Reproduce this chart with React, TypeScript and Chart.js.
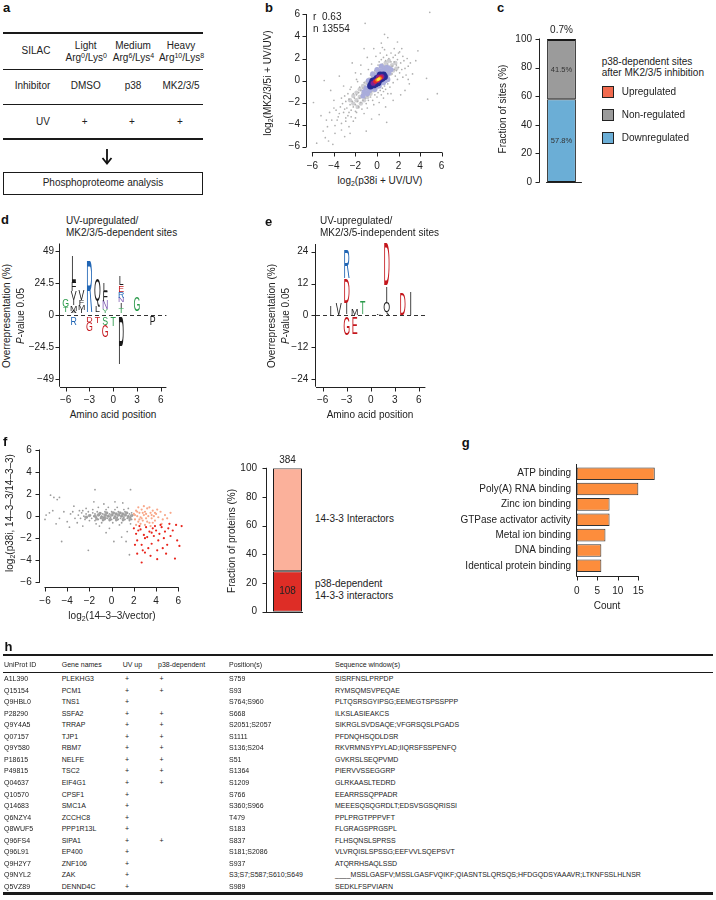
import React, { useEffect, useRef } from 'react';
import { Chart, registerables } from 'chart.js';

Chart.register(...registerables);

const FONT = '"Liberation Sans", Arial, Helvetica, sans-serif';
Chart.defaults.font.family = FONT;
Chart.defaults.font.size = 10;
Chart.defaults.color = '#222';

// ---------------- DATA ----------------
// panel a
const silacNames = ['Light', 'Medium', 'Heavy'];
const silacArg = ['0', '6', '10'];
const silacLys = ['0', '4', '8'];
const inhibitors = ['DMSO', 'p38', 'MK2/3/5'];
const uvFlags = ['+', '+', '+'];

// panel b
const bTicks = [-6, -4, -2, 0, 2, 4, 6];
const bStats = { r: '0.63', n: '13554' };
const bFill: [number, number][] = [
  [-2.2, -2.1], [-1.9, -1.8], [-1.6, -1.5], [-1.3, -1.2], [-1.0, -0.9], [-0.7, -0.6], [-0.4, -0.3], [-0.1, 0.0], [0.2, 0.3], [0.5, 0.6], [0.8, 0.9], [1.1, 1.2], [1.4, 1.4], [1.7, 1.6],
  [-2.5, -1.8], [-2.2, -1.4], [-1.9, -1.1], [-1.6, -0.8], [-1.3, -0.5], [-1.0, -0.2], [-0.7, 0.1], [-0.4, 0.4], [-0.1, 0.7], [0.2, 1.0], [0.5, 1.3], [0.8, 1.6], [1.1, 1.8],
  [-1.8, -2.4], [-1.5, -2.1], [-1.2, -1.8], [-0.9, -1.5], [-0.6, -1.2], [-0.3, -0.9], [0.0, -0.6], [0.3, -0.3], [0.6, 0.0], [0.9, 0.3], [1.2, 0.6], [1.5, 0.9], [1.8, 1.1],
];
const bDots: [number, number][] = [
  [-5.6, -5.7], [-4.1, -5.8], [-5.0, -4.6], [-4.6, -4.2], [-4.2, -3.6], [-3.9, -4.1], [-3.6, -3.3], [-3.8, -2.7], [-3.3, -3.9], [-3.1, -2.9], [-2.9, -3.4], [-3.4, -2.4], [-4.9, 0.0], [-3.1, -0.5], [-4.0, -1.8], [-4.4, -2.9], [-2.6, -4.2], [-2.2, -3.7], [-5.2, -3.2], [-3.0, -1.4], [-2.5, -0.8], [-1.8, -0.1], [-1.1, 5.2], [4.9, 6.2], [4.7, -1.7], [2.6, -0.9], [4.6, 0.2], [0.7, 4.2], [1.0, 3.9], [0.4, 3.4], [1.6, 2.9], [2.1, 2.6], [2.4, 2.2], [2.9, 1.3], [3.3, 0.6], [3.0, -0.3], [2.2, -1.3], [1.5, -1.8], [0.8, -2.4], [0.2, -3.1], [-0.5, -3.5], [-0.9, 2.1], [-1.5, 1.4], [-2.0, 0.7], [-1.2, 2.9], [-0.3, 2.9], [5.6, -1.2], [-5.9, -2.0], [3.8, 2.7], [-2.3, 1.6], [0.9, -3.8], [-1.0, -4.6], [1.9, 3.5], [3.6, 1.8], [-4.3, -0.9], [-3.5, 0.4],
  [-2.8, -2.5], [-2.6, -2.9], [-2.5, -2.2], [-2.4, -2.7], [-2.3, -1.9], [-2.2, -2.4], [-2.1, -1.6], [-2.0, -2.2], [-2.0, -2.8], [-1.9, -1.3], [-1.8, -1.9], [-1.7, -2.4], [-1.7, -1.1], [-1.6, -1.6], [-1.5, -2.0], [-1.5, -0.9], [-1.4, -1.4], [-1.3, -1.8], [-1.3, -0.7], [-1.2, -1.2], [-1.1, -1.6], [-1.1, -0.5], [-1.0, -1.0], [-1.0, -2.1], [-0.9, -1.4], [-0.9, -0.3], [-0.8, -0.8], [-0.8, -1.8], [-0.7, -1.2], [-0.7, 0.1], [-0.6, -0.5], [-0.6, -1.5], [-0.5, 0.3], [-0.5, -1.0], [-0.4, -0.2], [-0.4, -1.8], [-0.3, 0.6], [-0.3, -0.7], [-0.2, -1.3], [-0.2, 0.9], [-0.1, -0.9], [0.0, 1.1], [0.0, -1.5], [0.1, 1.4], [0.1, -1.1], [0.2, 1.7], [0.3, -0.9], [0.3, 1.2], [0.4, -1.3], [0.4, 1.9], [0.5, -0.7], [0.5, 1.5], [0.6, -1.0], [0.6, 2.1], [0.7, -0.5], [0.7, 1.3], [0.8, 1.8], [0.8, -0.8], [0.9, 0.9], [0.9, 2.3], [1.0, -0.3], [1.0, 1.5], [1.1, 2.0], [1.1, 0.3], [1.2, 1.1], [1.2, -0.6], [1.3, 1.7], [1.3, 2.5], [1.4, 0.6], [1.4, 1.3], [1.5, 2.1], [1.5, -0.2], [1.6, 1.0], [1.6, 1.7], [1.7, 0.4], [1.7, 2.3], [1.8, 1.4], [1.8, 0.9], [1.9, 1.9], [1.9, 0.1], [2.0, 1.2], [2.0, 2.5], [2.1, 0.7], [2.2, 1.6], [2.3, 1.0], [2.4, 0.3], [2.5, 1.8], [2.6, 1.1], [2.7, 0.5], [2.8, 2.0],
  [-3.2, -2.1], [-3.0, -2.6], [-2.9, -1.9], [-2.7, -3.2], [-2.6, -1.7], [-2.4, -3.3], [-2.2, -1.2], [-1.9, -2.9], [-1.6, -0.6], [-1.4, -2.6], [-1.2, -0.2], [-0.9, -2.5], [-0.6, 0.5], [-0.3, -2.2], [0.2, -2.0], [0.6, -1.6], [1.0, -1.2], [-0.8, 1.0], [-0.5, 1.5], [-0.1, 2.2], [0.3, 2.5], [0.7, 2.8], [-1.9, 0.1], [-2.4, -0.6], [-3.5, -3.0], [-3.3, -1.6], [-2.9, -3.7], [-1.2, -3.0], [0.5, 3.0], [2.3, 2.9], [3.1, 1.6], [2.9, 0.1], [1.3, -1.2], [-1.5, 0.6], [-2.7, -1.2], [-2.0, -3.4], [-3.7, -3.6], [-4.0, -2.5], [-3.3, -4.5], [-4.7, -3.6], [-4.8, -5.2], [-3.9, -4.8], [-4.5, -5.5], [-2.5, -4.8], [-3.0, -5.1],
];
const bHalo: [number, number][] = [
  [-1.2, -1.0], [-1.0, -0.7], [-0.9, -1.2], [-0.7, -0.4], [-0.7, -0.9], [-0.5, -0.1], [-0.5, -0.7], [-0.3, 0.2], [-0.3, -0.5], [-0.1, 0.4], [-0.1, -0.3], [0.1, 0.6], [0.1, -0.2], [0.3, 0.8], [0.3, 0.0], [0.5, 0.9], [0.5, 0.2], [0.7, 1.0], [0.7, 0.4], [0.9, 1.2], [0.9, 0.5], [1.1, 1.1], [1.1, 0.7], [1.3, 1.0], [-1.3, -1.4], [-0.2, -0.8], [0.2, -0.5], [0.6, -0.2], [-0.4, 0.6], [0.0, 1.0], [0.8, 0.0], [-0.8, 0.0], [0.4, 1.3], [1.0, 0.1],
];
const bNavy: [number, number][] = [
  [-0.6, -0.5], [-0.5, -0.3], [-0.4, -0.05], [-0.3, -0.4], [-0.2, 0.0], [-0.1, -0.3], [0.0, -0.1], [0.0, 0.2], [0.1, -0.2], [0.2, 0.3], [0.3, 0.1], [0.4, 0.4], [0.5, 0.2], [0.6, 0.5], [0.7, 0.35], [0.3, 0.5],
];
const bPurple: [number, number][] = [[-0.35, -0.25], [-0.15, -0.05], [0.05, 0.0], [0.25, 0.25], [0.45, 0.35], [0.15, 0.3]];
const bRed: [number, number][] = [[-0.15, -0.1], [0.05, 0.05], [0.2, 0.15], [0.35, 0.28]];
const bOrange: [number, number][] = [[0.0, 0.05], [0.15, 0.12], [0.27, 0.2]];
const bYellow: [number, number][] = [[0.1, 0.08], [0.2, 0.16]];

// panel c
const cTicks = [0, 20, 40, 60, 80, 100];
const cCategories = ['Upregulated', 'Non-regulated', 'Downregulated'];
const cValues = [0.7, 41.5, 57.8];
const cColors = ['#f26b4f', '#9b9b9b', '#6baed6'];

// panels d, e (sequence logos): [position, letter, bottom %, top %, colour key]
const logoColors: Record<string, string> = { k: '#1a1a1a', b: '#2166b5', r: '#c4161c', g: '#2a9a4a', p: '#7b55b0' };
const dTicksX = [-6, -3, 0, 3, 6];
const dTicksY = [-49, -24.5, 0, 24.5, 49];
const logoD: [number, string, number, number, string][] = [
  [-6, 'T', 2.0, 6.1, 'g'], [-6, 'G', 6.1, 12.2, 'g'],
  [-5, 'A', 1.3, 3.5, 'k'], [-5, 'M', 3.5, 7.7, 'k'], [-5, 'I', 7.7, 11.5, 'k'], [-5, 'V', 11.5, 18.4, 'k'], [-5, 'F', 18.4, 25.5, 'k'], [-5, 'L', 25.5, 45.2, 'k'], [-5, 'R', -7.4, -1.3, 'b'],
  [-4, 'I', 1.3, 3.8, 'k'], [-4, 'M', 3.8, 7.7, 'k'], [-4, 'F', 7.7, 11.5, 'k'], [-4, 'V', 11.5, 19.1, 'k'],
  [-3, 'R', 2.0, 41.3, 'b'], [-3, 'D', -5.1, -1.3, 'r'], [-3, 'G', -12.2, -5.1, 'r'],
  [-2, 'L', 2.0, 6.4, 'k'], [-2, 'Q', 6.4, 28.1, 'k'], [-2, 'T', -6.4, -1.3, 'r'],
  [-1, 'Y', 1.3, 4.3, 'g'], [-1, 'N', 4.3, 10.7, 'p'], [-1, 'F', 10.7, 18.4, 'k'], [-1, 'L', 18.4, 24.2, 'k'], [-1, 'S', -7.7, -1.3, 'g'], [-1, 'G', -17.1, -7.7, 'r'],
  [0, 'T', -8.2, -1.3, 'g'],
  [1, 'T', 1.3, 5.5, 'g'], [1, 'I', 5.5, 9.7, 'k'], [1, 'N', 9.7, 13.3, 'p'], [1, 'R', 13.3, 17.9, 'b'], [1, 'E', 17.9, 23.0, 'r'], [1, 'L', 23.0, 29.3, 'k'], [1, 'P', -37.0, -1.3, 'k'],
  [3, 'G', 3.1, 14.0, 'g'],
  [5, 'P', -7.7, -1.3, 'k'],
];
const eTicksY = [-24, -12, 0, 12, 24];
const logoE: [number, string, number, number, string][] = [
  [-5, 'I', 0.3, 3.8, 'k'], [-4, 'V', 0.3, 4.8, 'k'],
  [-3, 'I', 0.6, 4.8, 'k'], [-3, 'D', 4.8, 14.1, 'r'], [-3, 'R', 14.1, 25.0, 'b'], [-3, 'G', -7.3, -0.6, 'r'],
  [-2, 'M', 0.3, 2.5, 'k'], [-2, 'E', -6.9, -0.6, 'r'],
  [-1, 'T', 0.3, 5.3, 'g'], [1, 'L', 0.3, 0.9, 'k'],
  [2, 'Q', 0.3, 5.1, 'k'], [2, 'I', 5.1, 10.7, 'k'], [2, 'D', 11.4, 27.1, 'r'],
  [4, 'D', 0.3, 8.2, 'r'], [5, 'I', 0.3, 8.8, 'k'],
];

// panel f
const fTicks = [-6, -4, -2, 0, 2, 4, 6];
const fFill: [number, number][] = [
  [-1.5, 0.0], [-1.2, 0.1], [-0.9, -0.1], [-0.6, 0.1], [-0.3, 0.0], [0.0, 0.1], [0.3, -0.1], [0.6, 0.1], [0.9, 0.0], [1.2, 0.1], [1.5, -0.05], [1.8, 0.05], [-1.35, -0.25], [-1.05, 0.25], [-0.75, -0.3], [-0.45, 0.3], [-0.15, -0.3], [0.15, 0.3], [0.45, -0.3], [0.75, 0.3], [1.05, -0.3], [1.35, 0.3], [1.65, -0.25], [-0.6, -0.15], [0.4, 0.2], [1.0, 0.2], [-2.0, 0.05], [-2.3, -0.1],
];
const fGray: [number, number][] = [
  [-5.5, 1.9], [-5.2, 1.7], [-4.7, 1.7], [-4.9, 1.5], [-5.9, 0.1], [-5.6, 0.3], [-5.3, 0.5], [-6.0, -0.3], [-4.5, -2.3], [-4.7, -0.2], [-4.3, 0.4], [-4.0, -0.5], [-3.7, 0.2], [-3.4, 0.9], [-3.1, -0.6], [-2.9, 0.5], [-2.1, -3.1], [-1.5, 2.4], [1.7, 2.4], [-0.5, -1.5], [0.2, -2.3], [1.3, -2.3], [1.4, -1.4], [0.9, -1.9], [-1.1, -0.9], [-2.6, -0.9], [-2.3, 0.7], [-1.6, 1.3], [-0.7, 1.1], [0.3, 1.3], [1.0, 1.2], [-0.2, -1.1], [1.6, -3.5], [-1.2, 0.8], [-3.8, -1.0], [-5.0, -0.7],
  [-3.0, 0.1], [-2.8, -0.2], [-2.7, 0.3], [-2.5, 0.0], [-2.4, -0.3], [-2.3, 0.2], [-2.2, -0.1], [-2.1, 0.4], [-2.0, -0.4], [-1.9, 0.1], [-1.8, -0.2], [-1.7, 0.3], [-1.6, 0.0], [-1.5, -0.4], [-1.5, 0.2], [-1.4, -0.1], [-1.3, 0.4], [-1.2, -0.3], [-1.1, 0.1], [-1.0, -0.2], [-1.0, 0.3], [-0.9, 0.0], [-0.8, -0.4], [-0.8, 0.2], [-0.7, -0.1], [-0.6, 0.4], [-0.6, -0.3], [-0.5, 0.1], [-0.4, -0.2], [-0.4, 0.3], [-0.3, 0.0], [-0.2, -0.4], [-0.2, 0.2], [-0.1, -0.1], [0.0, 0.4], [0.0, -0.3], [0.1, 0.1], [0.2, -0.2], [0.2, 0.3], [0.3, 0.0], [0.4, -0.4], [0.4, 0.2], [0.5, -0.1], [0.6, 0.4], [0.6, -0.3], [0.7, 0.1], [0.8, -0.2], [0.8, 0.3], [0.9, 0.0], [1.0, -0.4], [1.0, 0.2], [1.1, -0.1], [1.2, 0.4], [1.2, -0.3], [1.3, 0.1], [1.4, -0.2], [1.4, 0.3], [1.5, 0.0], [1.6, -0.4], [1.6, 0.2], [1.7, -0.1], [1.8, 0.3], [1.8, -0.3], [1.9, 0.1], [-0.5, 0.6], [0.3, 0.6], [1.1, 0.6], [-0.9, -0.6], [0.1, -0.6], [0.9, -0.6], [-1.7, 0.6], [1.5, 0.7], [-2.6, 0.5], [-3.3, -0.2], [-3.5, 0.4], [0.5, 0.8], [-0.3, 0.8], [1.7, -0.7], [-1.4, -0.7], [0.7, -0.8],
];
const fSalmon: [number, number][] = [
  [2.0, 0.2], [2.1, -0.3], [2.2, 0.5], [2.3, 0.0], [2.4, -0.5], [2.5, 0.3], [2.6, -0.1], [2.7, 0.6], [2.8, -0.4], [2.9, 0.1], [3.0, 0.4], [3.1, -0.2], [3.2, 0.7], [3.3, 0.0], [3.4, -0.6], [3.5, 0.3], [3.6, -0.2], [3.7, 0.5], [3.8, 0.0], [3.9, -0.4], [4.0, 0.2], [4.2, -0.1], [4.4, 0.4], [4.6, -0.3], [4.8, 0.1], [5.0, -0.2], [2.2, -0.8], [2.6, -0.7], [3.0, -0.8], [3.5, -0.9], [2.4, 0.8], [2.9, 0.9], [3.4, 0.8], [2.1, 0.1], [2.5, -0.3], [2.8, 0.3], [3.2, -0.5], [3.7, -0.6], [4.1, 0.6], [4.5, -0.7], [5.3, 0.3], [2.3, 0.4], [2.7, -0.2], [3.1, 0.2], [3.6, 0.1], [3.9, 0.3],
];
const fRed: [number, number][] = [
  [2.0, -1.1], [2.2, -1.6], [2.3, -2.2], [2.4, -1.3], [2.6, -1.2], [2.7, -2.6], [2.7, -4.2], [2.9, -1.7], [3.0, -2.0], [3.1, -1.0], [3.2, -1.9], [3.3, -2.9], [3.4, -1.4], [3.5, -3.6], [3.6, -2.5], [3.7, -1.1], [3.8, -1.8], [4.0, -1.3], [4.1, -3.1], [4.1, -3.9], [4.2, -2.2], [4.3, -1.6], [4.5, -1.0], [4.6, -2.9], [4.7, -2.0], [4.8, -1.4], [5.0, -2.6], [5.1, -1.1], [5.3, -1.8], [5.5, -1.3], [5.7, -3.85], [5.9, -2.2], [6.1, -2.7], [6.3, -0.9], [5.8, -0.8], [5.2, -0.7], [4.4, -0.8], [3.9, -0.9], [2.5, -0.9], [2.8, -3.1], [3.0, -3.3], [2.1, -2.6], [2.3, -3.4], [4.9, -3.4], [3.6, -1.5],
];
const fBarTicks = [0, 20, 40, 60, 80, 100];
const fTotal = 384;
const fDependent = 108;

// panel g
const gTerms = ['ATP binding', 'Poly(A) RNA binding', 'Zinc ion binding', 'GTPase activator activity', 'Metal ion binding', 'DNA binding', 'Identical protein binding'];
const gCounts = [19, 15, 8, 8, 7, 6, 6];
const gTicks = [0, 5, 10, 15];

// panel h
const hHeaders = ['UniProt ID', 'Gene names', 'UV up', 'p38-dependent', 'Position(s)', 'Sequence window(s)'];
const hIds = ['A1L390', 'Q15154', 'Q9HBL0', 'P28290', 'Q9Y4A5', 'Q07157', 'Q9Y580', 'P18615', 'P49815', 'Q04637', 'Q10570', 'Q14683', 'Q6NZY4', 'Q8WUF5', 'Q96FS4', 'Q96L91', 'Q9H2Y7', 'Q9NYL2', 'Q5VZ89'];
const hGenes = ['PLEKHG3', 'PCM1', 'TNS1', 'SSFA2', 'TRRAP', 'TJP1', 'RBM7', 'NELFE', 'TSC2', 'EIF4G1', 'CPSF1', 'SMC1A', 'ZCCHC8', 'PPP1R13L', 'SIPA1', 'EP400', 'ZNF106', 'ZAK', 'DENND4C'];
const hUv = ['+', '+', '+', '+', '+', '+', '+', '+', '+', '+', '+', '+', '+', '+', '+', '+', '+', '+', '+'];
const hP38 = ['+', '+', '', '+', '+', '+', '+', '+', '+', '+', '', '', '', '', '+', '', '', '', ''];
const hPositions = ['S759', 'S93', 'S764;S960', 'S668', 'S2051;S2057', 'S1111', 'S136;S204', 'S51', 'S1364', 'S1209', 'S766', 'S360;S966', 'T479', 'S183', 'S837', 'S181;S2086', 'S937', 'S3;S7;S587;S610;S649', 'S989'];
const hSeqs = ['SISRFNSLPRPDP', 'RYMSQMSVPEQAE', 'PLTQSRSGYIPSG;EEMEGTSPSSPPP', 'ILKSLASIEAKCS', 'SIKRGLSVDSAQE;VFGRSQSLPGADS', 'PFDNQHSQDLDSR', 'RKVRMNSYPYLAD;IIQRSFSSPENFQ', 'GVKRSLSEQPVMD', 'PIERVVSSEGGRP', 'GLRKAASLTEDRD', 'EEARRSSQPPADR', 'MEEESQSQGRDLT;EDSVSGSQRISSI', 'PPLPRGTPPPVFT', 'FLGRAGSPRGSPL', 'FLHSQNSLSPRSS', 'VLVRQISLSPSSG;EEFVVLSQEPSVT', 'ATQRRHSAQLSSD', '____MSSLGASFV;MSSLGASFVQIKF;QIASNTSLQRSQS;HFDGQDSYAAAVR;LTKNFSSLHLNSR', 'SEDKLFSPVIARN'];

// ---------------- HELPERS ----------------
const toXY = (a: [number, number][]) => a.map(([x, y]) => ({ x, y }));
const fmtTick = (v: number) => (v < 0 ? '\u2212' + Math.abs(v) : String(v));

const common = {
  responsive: false,
  animation: false,
  devicePixelRatio: 1,
  events: [],
  plugins: { legend: { display: false }, tooltip: { enabled: false } },
};

function zeroPad(s: any) {
  s.paddingLeft = 0; s.paddingRight = 0; s.paddingTop = 0; s.paddingBottom = 0;
}

function lin(o: { min: number; max: number; ticks: number[]; pad: number; fit: number; axis: 'x' | 'y' }) {
  return {
    type: 'linear',
    min: o.min,
    max: o.max,
    afterBuildTicks: (s: any) => { s.ticks = o.ticks.map((v) => ({ value: v })); },
    grid: { display: false, drawTicks: false },
    border: { display: false },
    ticks: { padding: o.pad, font: { size: 10, family: FONT }, color: '#222', autoSkip: false, maxRotation: 0, callback: (v: any) => fmtTick(Number(v)) },
    afterFit: (s: any) => { if (o.axis === 'x') s.height = o.fit; else s.width = o.fit; zeroPad(s); },
  };
}

type AxSpec = { from?: number; to?: number; ext?: [number, number]; off?: number; ticks?: boolean };
function axesPlugin(spec: { x?: AxSpec; y?: AxSpec }) {
  return {
    id: 'raxes',
    afterDraw(chart: any) {
      const { ctx, chartArea: ca, scales } = chart;
      const r = (v: number) => Math.round(v) + 0.5;
      ctx.save();
      ctx.strokeStyle = '#222';
      ctx.lineWidth = 1;
      ctx.beginPath();
      if (spec.x) {
        const s = scales.x, a = spec.x;
        const yy = r(ca.bottom + (a.off || 0));
        const x0 = a.from !== undefined ? s.getPixelForValue(a.from) - 0.5 : ca.left - (a.ext ? a.ext[0] : 0);
        const x1 = a.to !== undefined ? s.getPixelForValue(a.to) + 0.5 : ca.right + (a.ext ? a.ext[1] : 0);
        ctx.moveTo(x0, yy); ctx.lineTo(x1, yy);
        if (a.ticks !== false) s.ticks.forEach((t: any) => { const p = r(s.getPixelForValue(t.value)); ctx.moveTo(p, yy); ctx.lineTo(p, yy + 4); });
      }
      if (spec.y) {
        const s = scales.y, a = spec.y;
        const xx = r(ca.left - (a.off || 0)) - 1;
        const y0 = a.from !== undefined ? s.getPixelForValue(a.from) + 0.5 : ca.bottom + (a.ext ? a.ext[1] : 0);
        const y1 = a.to !== undefined ? s.getPixelForValue(a.to) - 0.5 : ca.top - (a.ext ? a.ext[0] : 0);
        ctx.moveTo(xx, y0); ctx.lineTo(xx, y1);
        if (a.ticks !== false) s.ticks.forEach((t: any) => { const p = r(s.getPixelForValue(t.value)); ctx.moveTo(xx, p); ctx.lineTo(xx - 4, p); });
      }
      ctx.stroke();
      ctx.restore();
    },
  };
}

function barBasePlugin(fromAxis: boolean, leftExt: number, rightExt: number) {
  return {
    id: 'barbase',
    afterDraw(chart: any) {
      const el = chart.getDatasetMeta(0).data[0];
      const ca = chart.chartArea;
      const ctx = chart.ctx;
      const l = fromAxis ? ca.left - 1 : el.x - el.width / 2 - leftExt;
      const rr = el.x + el.width / 2 + rightExt;
      const yy = Math.round(ca.bottom) + 0.5;
      ctx.save();
      ctx.strokeStyle = '#222';
      ctx.lineWidth = 1;
      ctx.beginPath(); ctx.moveTo(l, yy); ctx.lineTo(rr, yy); ctx.stroke();
      ctx.restore();
    },
  };
}

function barLabelPlugin(items: { ds: number; text: string; where: 'mid' | 'top'; size: number; dy?: number; color?: string }[]) {
  return {
    id: 'barlabels',
    afterDraw(chart: any) {
      const ctx = chart.ctx;
      ctx.save();
      ctx.textAlign = 'center';
      ctx.textBaseline = 'middle';
      items.forEach((it) => {
        const el = chart.getDatasetMeta(it.ds).data[0];
        ctx.font = `${it.size}px ${FONT}`;
        ctx.fillStyle = it.color || '#222';
        const y = it.where === 'mid' ? (el.y + el.base) / 2 : el.y - (it.dy || 8);
        ctx.fillText(it.text, el.x, y);
      });
      ctx.restore();
    },
  };
}

function logoPlugin(letters: [number, string, number, number, string][]) {
  return {
    id: 'logo',
    beforeDatasetsDraw(chart: any) {
      const { ctx, chartArea: ca, scales } = chart;
      const y0 = Math.round(scales.y.getPixelForValue(0)) + 0.5;
      ctx.save();
      ctx.strokeStyle = '#333';
      ctx.lineWidth = 1;
      ctx.setLineDash([4, 3]);
      ctx.beginPath(); ctx.moveTo(ca.left, y0); ctx.lineTo(ca.right, y0); ctx.stroke();
      ctx.restore();
    },
    afterDatasetsDraw(chart: any) {
      const { ctx, scales } = chart;
      const x = scales.x, y = scales.y;
      ctx.save();
      ctx.font = `100px ${FONT}`;
      ctx.textAlign = 'center';
      ctx.textBaseline = 'alphabetic';
      const refW = ctx.measureText('D').width;
      const unit = Math.abs(x.getPixelForValue(1) - x.getPixelForValue(0));
      letters.forEach(([pos, ch, lo, hi, col]) => {
        const m = ctx.measureText(ch);
        const asc = m.actualBoundingBoxAscent, desc = m.actualBoundingBoxDescent;
        const yTop = y.getPixelForValue(hi), yBot = y.getPixelForValue(lo);
        const h = yBot - yTop;
        const sx = (unit * 0.8) / refW, sy = h / (asc + desc);
        ctx.save();
        ctx.translate(x.getPixelForValue(pos), yBot);
        ctx.scale(sx, sy);
        ctx.fillStyle = logoColors[col];
        ctx.fillText(ch, 0, -desc);
        ctx.restore();
      });
      ctx.restore();
    },
  };
}

// order: lower number is drawn on top in Chart.js
const pts = (a: [number, number][], color: string, r: number, layer: number) => ({
  data: toXY(a), pointRadius: r, pointBackgroundColor: color, backgroundColor: color, pointBorderWidth: 0, borderWidth: 0, order: layer,
});

// ---------------- CHART CONFIGS ----------------
const buildB = () => ({
  type: 'scatter',
  data: {
    datasets: [
      pts(bFill, '#cfcfd2', 2.2, 8), pts(bDots, '#b0b0b0', 0.85, 7), pts(bHalo, '#a9acdb', 2.6, 6), pts(bNavy, '#262a93', 3.4, 5),
      pts(bPurple, '#86208f', 2.6, 4), pts(bRed, '#e3262b', 2.2, 3), pts(bOrange, '#f5901f', 1.8, 2), pts(bYellow, '#ffe83d', 1.3, 1),
    ],
  },
  options: {
    ...common,
    layout: { padding: { top: 3.8, right: 1.5, left: 0, bottom: 0 } },
    scales: {
      x: lin({ min: -6.5, max: 6.5, ticks: bTicks, pad: 8.1, fit: 20, axis: 'x' }),
      y: lin({ min: -6.5, max: 6.5, ticks: bTicks, pad: 7, fit: 52, axis: 'y' }),
    },
  },
  plugins: [axesPlugin({ x: { from: -6, to: 6 }, y: { from: -6, to: 6 } })],
});

const buildC = () => {
  const order = [2, 1, 0];
  return {
    type: 'bar',
    data: {
      labels: [''],
      datasets: order.map((i) => ({
        label: cCategories[i], data: [cValues[i]], backgroundColor: cColors[i], borderColor: '#1a1a1a', borderWidth: 1, borderSkipped: false, barPercentage: 0.67, categoryPercentage: 1,
      })),
    },
    options: {
      ...common,
      layout: { padding: { top: 19, right: 12, left: 0, bottom: 0 } },
      scales: {
        x: { stacked: true, grid: { display: false, drawTicks: false }, border: { display: false }, ticks: { display: false }, afterFit: (s: any) => { s.height = 13; zeroPad(s); } },
        y: { ...lin({ min: 0, max: 100, ticks: cTicks, pad: 8, fit: 50, axis: 'y' }), stacked: true },
      },
    },
    plugins: [
      axesPlugin({ y: { from: 0, to: 100 } }),
      barBasePlugin(false, 1, 6),
      barLabelPlugin([
        { ds: 0, text: `${cValues[2]}%`, where: 'mid', size: 7.5, color: '#333' },
        { ds: 1, text: `${cValues[1]}%`, where: 'mid', size: 7.5, color: '#333' },
        { ds: 2, text: `${cValues[0]}%`, where: 'top', size: 10, dy: 9 },
      ]),
    ],
  };
};

const buildLogo = (letters: any, xmin: number, xmax: number, ymin: number, ymax: number, yTicks: number[], yFit: number, padTop: number, padRight: number, yPad: number) => ({
  type: 'scatter',
  data: { datasets: [{ data: [] }] },
  options: {
    ...common,
    layout: { padding: { top: padTop, right: padRight, left: 0, bottom: 0 } },
    scales: {
      x: lin({ min: xmin, max: xmax, ticks: dTicksX, pad: 8, fit: 19.3, axis: 'x' }),
      y: lin({ min: ymin, max: ymax, ticks: yTicks, pad: yPad, fit: yFit, axis: 'y' }),
    },
  },
  plugins: [axesPlugin({ x: {}, y: {} }), logoPlugin(letters)],
});

const buildFScatter = () => ({
  type: 'scatter',
  data: {
    datasets: [pts(fFill, '#a6a6a6', 1.7, 4), pts(fGray, '#9c9c9c', 0.9, 3), pts(fSalmon, '#f8a88a', 1.1, 2), pts(fRed, '#e8251c', 1.1, 1)],
  },
  options: {
    ...common,
    layout: { padding: { top: 5, right: 6.7, left: 0, bottom: 0 } },
    scales: {
      x: lin({ min: -6.45, max: 6.45, ticks: fTicks, pad: 8.1, fit: 22.7, axis: 'x' }),
      y: lin({ min: -6.45, max: 6.45, ticks: fTicks, pad: 8.3, fit: 40, axis: 'y' }),
    },
  },
  plugins: [axesPlugin({ x: { from: -6, to: 6 }, y: { from: -6, to: 6 } })],
});

const buildFBar = () => {
  const depPct = (fDependent / fTotal) * 100;
  const restPct = 100 - depPct;
  return {
    type: 'bar',
    data: {
      labels: [''],
      datasets: [
        { data: [depPct], backgroundColor: '#de2d26' },
        { data: [restPct], backgroundColor: '#fbb19b' },
      ].map((d) => ({ ...d, borderColor: '#1a1a1a', borderWidth: 1, borderSkipped: false, barPercentage: 0.707, categoryPercentage: 1 })),
    },
    options: {
      ...common,
      layout: { padding: { top: 18.3, right: 7, left: 0, bottom: 0 } },
      scales: {
        x: { stacked: true, grid: { display: false, drawTicks: false }, border: { display: false }, ticks: { display: false }, afterFit: (s: any) => { s.height = 10.3; zeroPad(s); } },
        y: { ...lin({ min: 0, max: 100, ticks: fBarTicks, pad: 10, fit: 47, axis: 'y' }), stacked: true },
      },
    },
    plugins: [
      axesPlugin({ y: { from: 0, to: 100 } }),
      barBasePlugin(true, 0, 1),
      barLabelPlugin([
        { ds: 0, text: String(fDependent), where: 'mid', size: 10 },
        { ds: 1, text: String(fTotal), where: 'top', size: 10, dy: 8.5 },
      ]),
    ],
  };
};

const buildG = () => ({
  type: 'bar',
  data: {
    labels: gTerms,
    datasets: [{ data: gCounts, backgroundColor: '#fd8d3c', borderColor: '#333', borderWidth: 1, borderSkipped: false, barPercentage: 0.82, categoryPercentage: 1 }],
  },
  options: {
    ...common,
    indexAxis: 'y',
    layout: { padding: { top: 11, right: 9, left: 0, bottom: 0 } },
    scales: {
      x: lin({ min: 0, max: 19.3, ticks: gTicks, pad: 11.5, fit: 41.5, axis: 'x' }),
      y: {
        type: 'category',
        grid: { display: false, drawTicks: false },
        border: { display: false },
        ticks: { padding: 5.7, font: { size: 10, family: FONT }, color: '#222', autoSkip: false },
        afterFit: (s: any) => { s.width = 136.7; zeroPad(s); },
      },
    },
  },
  plugins: [axesPlugin({ x: { from: 0, to: 15, off: 2.5 }, y: { ext: [2, 2.5], ticks: false } })],
});

// ---------------- COMPONENTS ----------------
function ChartBox({ left, top, width, height, build }: { left: number; top: number; width: number; height: number; build: () => any }) {
  const ref = useRef<HTMLCanvasElement>(null);
  useEffect(() => {
    const chart = new Chart(ref.current as HTMLCanvasElement, build());
    return () => chart.destroy();
  }, []);
  return <canvas ref={ref} width={width} height={height} style={{ position: 'absolute', left, top, width, height, display: 'block' }} />;
}

function Txt({ x, y, children, align = 'left', size = 10, rot = false, bold = false, italic = false, color = '#222' }: any) {
  const tx = align === 'left' ? '0' : align === 'center' ? '-50%' : '-100%';
  const transform = rot ? 'translate(-50%,-50%) rotate(-90deg)' : `translate(${tx},-50%)`;
  return (
    <div style={{ position: 'absolute', left: x, top: y, transform, fontSize: size, lineHeight: 1, whiteSpace: 'nowrap', fontFamily: FONT, fontWeight: bold ? 'bold' : 'normal', fontStyle: italic ? 'italic' : 'normal', color }}>
      {children}
    </div>
  );
}

function Letter({ x, base, ch }: { x: number; base: number; ch: string }) {
  return <div style={{ position: 'absolute', left: x, top: base - 10.8, fontSize: 13, lineHeight: '13px', fontWeight: 'bold', fontFamily: FONT, color: '#111' }}>{ch}</div>;
}

function HLine({ x1, x2, y, w }: { x1: number; x2: number; y: number; w: number }) {
  return <div style={{ position: 'absolute', left: x1, top: y - w / 2, width: x2 - x1, height: w, background: '#1a1a1a' }} />;
}

const Sub = ({ c }: { c: string }) => <span style={{ fontSize: '0.7em', position: 'relative', top: '0.32em' }}>{c}</span>;
const Sup = ({ c }: { c: string }) => <span style={{ fontSize: '0.7em', position: 'relative', top: '-0.45em' }}>{c}</span>;

function PanelA() {
  const colX = [85.7, 133, 181];
  return (
    <>
      <Letter x={3} base={12} ch="a" />
      <HLine x1={3} x2={203} y={33.3} w={2} />
      <Txt x={36} y={51} align="center">SILAC</Txt>
      {silacNames.map((n, i) => (
        <React.Fragment key={n}>
          <Txt x={colX[i]} y={46} align="center">{n}</Txt>
          <Txt x={colX[i] + 0.5} y={58.3} align="center">Arg<Sup c={silacArg[i]} />/Lys<Sup c={silacLys[i]} /></Txt>
        </React.Fragment>
      ))}
      <HLine x1={3} x2={203} y={69} w={1} />
      <Txt x={32.5} y={86} align="center">Inhibitor</Txt>
      {inhibitors.map((n, i) => <Txt key={n} x={colX[i]} y={86} align="center">{n}</Txt>)}
      <HLine x1={3} x2={203} y={104.3} w={1} />
      <Txt x={43} y={121.7} align="center">UV</Txt>
      {uvFlags.map((n, i) => <Txt key={i} x={colX[i] - 1} y={121.7} align="center">{n}</Txt>)}
      <HLine x1={3} x2={203} y={139.3} w={2} />
      <svg style={{ position: 'absolute', left: 101, top: 149 }} width={12} height={16}>
        <line x1={6} y1={0} x2={6} y2={14} stroke="#111" strokeWidth={1.8} />
        <polyline points="1.5,9 6,14.5 10.5,9" fill="none" stroke="#111" strokeWidth={1.8} />
      </svg>
      <div style={{ position: 'absolute', left: 3, top: 171.5, width: 200, height: 23, border: '1px solid #1a1a1a', boxSizing: 'border-box' }} />
      <Txt x={103} y={183} align="center">Phosphoproteome analysis</Txt>
    </>
  );
}

function PanelB() {
  return (
    <>
      <Letter x={265} base={11.7} ch="b" />
      <ChartBox left={255} top={5} width={196} height={167} build={buildB} />
      <Txt x={313} y={17}>r</Txt>
      <Txt x={322} y={17}>{bStats.r}</Txt>
      <Txt x={313} y={29}>n</Txt>
      <Txt x={322} y={29}>{bStats.n}</Txt>
      <Txt x={380} y={181} align="center">log<Sub c="2" />(p38i + UV/UV)</Txt>
      <Txt x={268} y={83} rot>log<Sub c="2" />(MK2/3/5i + UV/UV)</Txt>
    </>
  );
}

function PanelC() {
  const sqY = [92, 115, 138.3];
  return (
    <>
      <Letter x={497} base={11.7} ch="c" />
      <ChartBox left={490} top={20} width={105} height={175} build={buildC} />
      <Txt x={503} y={109} rot>Fraction of sites (%)</Txt>
      <Txt x={601.7} y={62}>p38-dependent sites</Txt>
      <Txt x={601.7} y={73}>after MK2/3/5 inhibition</Txt>
      {cCategories.map((c, i) => (
        <React.Fragment key={c}>
          <div style={{ position: 'absolute', left: 601.7, top: sqY[i] - 6, width: 12, height: 12, background: cColors[i], border: '1px solid #222', boxSizing: 'border-box' }} />
          <Txt x={621.7} y={sqY[i]}>{c}</Txt>
        </React.Fragment>
      ))}
    </>
  );
}

function LogoPanel({ letter, lx, lbase, tx, canvasLeft, build, yt1, yt2, xc }: any) {
  return (
    <>
      <Letter x={lx} base={lbase} ch={letter} />
      <Txt x={tx} y={221}>UV-upregulated/</Txt>
      <Txt x={tx} y={233}>{letter === 'd' ? 'MK2/3/5-dependent sites' : 'MK2/3/5-independent sites'}</Txt>
      <ChartBox left={canvasLeft} top={238} width={160} height={168} build={build} />
      <Txt x={yt1} y={316} rot>Overrepresentation (%)</Txt>
      <Txt x={yt2} y={316} rot><i>P</i>-value 0.05</Txt>
      <Txt x={xc} y={415} align="center">Amino acid position</Txt>
    </>
  );
}

function PanelF() {
  return (
    <>
      <Letter x={3} base={446} ch="f" />
      <ChartBox left={0} top={440} width={190} height={170} build={buildFScatter} />
      <Txt x={9.5} y={513} rot>log<Sub c="2" />(p38i, 14–3–3/14–3–3)</Txt>
      <Txt x={112} y={616} align="center">log<Sub c="2" />(14–3–3/vector)</Txt>
      <ChartBox left={220} top={450} width={95} height={172} build={buildFBar} />
      <Txt x={232} y={541} rot>Fraction of proteins (%)</Txt>
      <Txt x={315} y={519.3}>14-3-3 Interactors</Txt>
      <Txt x={315} y={584.3}>p38-dependent</Txt>
      <Txt x={315} y={595.7}>14-3-3 interactors</Txt>
    </>
  );
}

function PanelG() {
  return (
    <>
      <Letter x={461.7} base={447} ch="g" />
      <ChartBox left={440} top={455} width={225} height={160} build={buildG} />
      <Txt x={607} y={606} align="center">Count</Txt>
    </>
  );
}

function PanelH() {
  const hx = [4, 61.7, 122.7, 158, 229, 335];
  const rowY = (i: number) => 678 + i * 11.55;
  const fs = 7;
  return (
    <>
      <Letter x={4.5} base={650.5} ch="h" />
      <HLine x1={3} x2={713} y={655} w={2.5} />
      {hHeaders.map((h, i) => <Txt key={h} x={hx[i]} y={664} size={fs}>{h}</Txt>)}
      <HLine x1={3} x2={713} y={672.3} w={0.8} />
      {hIds.map((id, i) => (
        <React.Fragment key={id}>
          <Txt x={hx[0]} y={rowY(i)} size={fs}>{id}</Txt>
          <Txt x={hx[1]} y={rowY(i)} size={fs}>{hGenes[i]}</Txt>
          <Txt x={127} y={rowY(i)} size={fs} align="center">{hUv[i]}</Txt>
          <Txt x={161.5} y={rowY(i)} size={fs} align="center">{hP38[i]}</Txt>
          <Txt x={hx[4]} y={rowY(i)} size={fs}>{hPositions[i]}</Txt>
          <Txt x={hx[5]} y={rowY(i)} size={fs}>{hSeqs[i]}</Txt>
        </React.Fragment>
      ))}
      <HLine x1={3} x2={713} y={893.5} w={2.5} />
    </>
  );
}

export default function App() {
  return (
    <div style={{ position: 'absolute', left: 0, top: 0, width: 716, height: 900, background: '#fff', overflow: 'hidden', fontFamily: FONT, color: '#222' }}>
      <PanelA />
      <PanelB />
      <PanelC />
      <LogoPanel letter="d" lx={1} lbase={223.5} tx={66} canvasLeft={15} yt1={7} yt2={21} xc={113}
        build={() => buildLogo(logoD, -6.72, 6.72, -54.6, 54.6, dTicksY, 45, 5.5, 8.6, 6)} />
      <LogoPanel letter="e" lx={265} lbase={226} tx={320} canvasLeft={270} yt1={272} yt2={285.5} xc={370}
        build={() => buildLogo(logoE, -6.84, 6.84, -26.8, 26.9, eTicksY, 46, 6, 4.6, 7.7)} />
      <PanelF />
      <PanelG />
      <PanelH />
    </div>
  );
}
